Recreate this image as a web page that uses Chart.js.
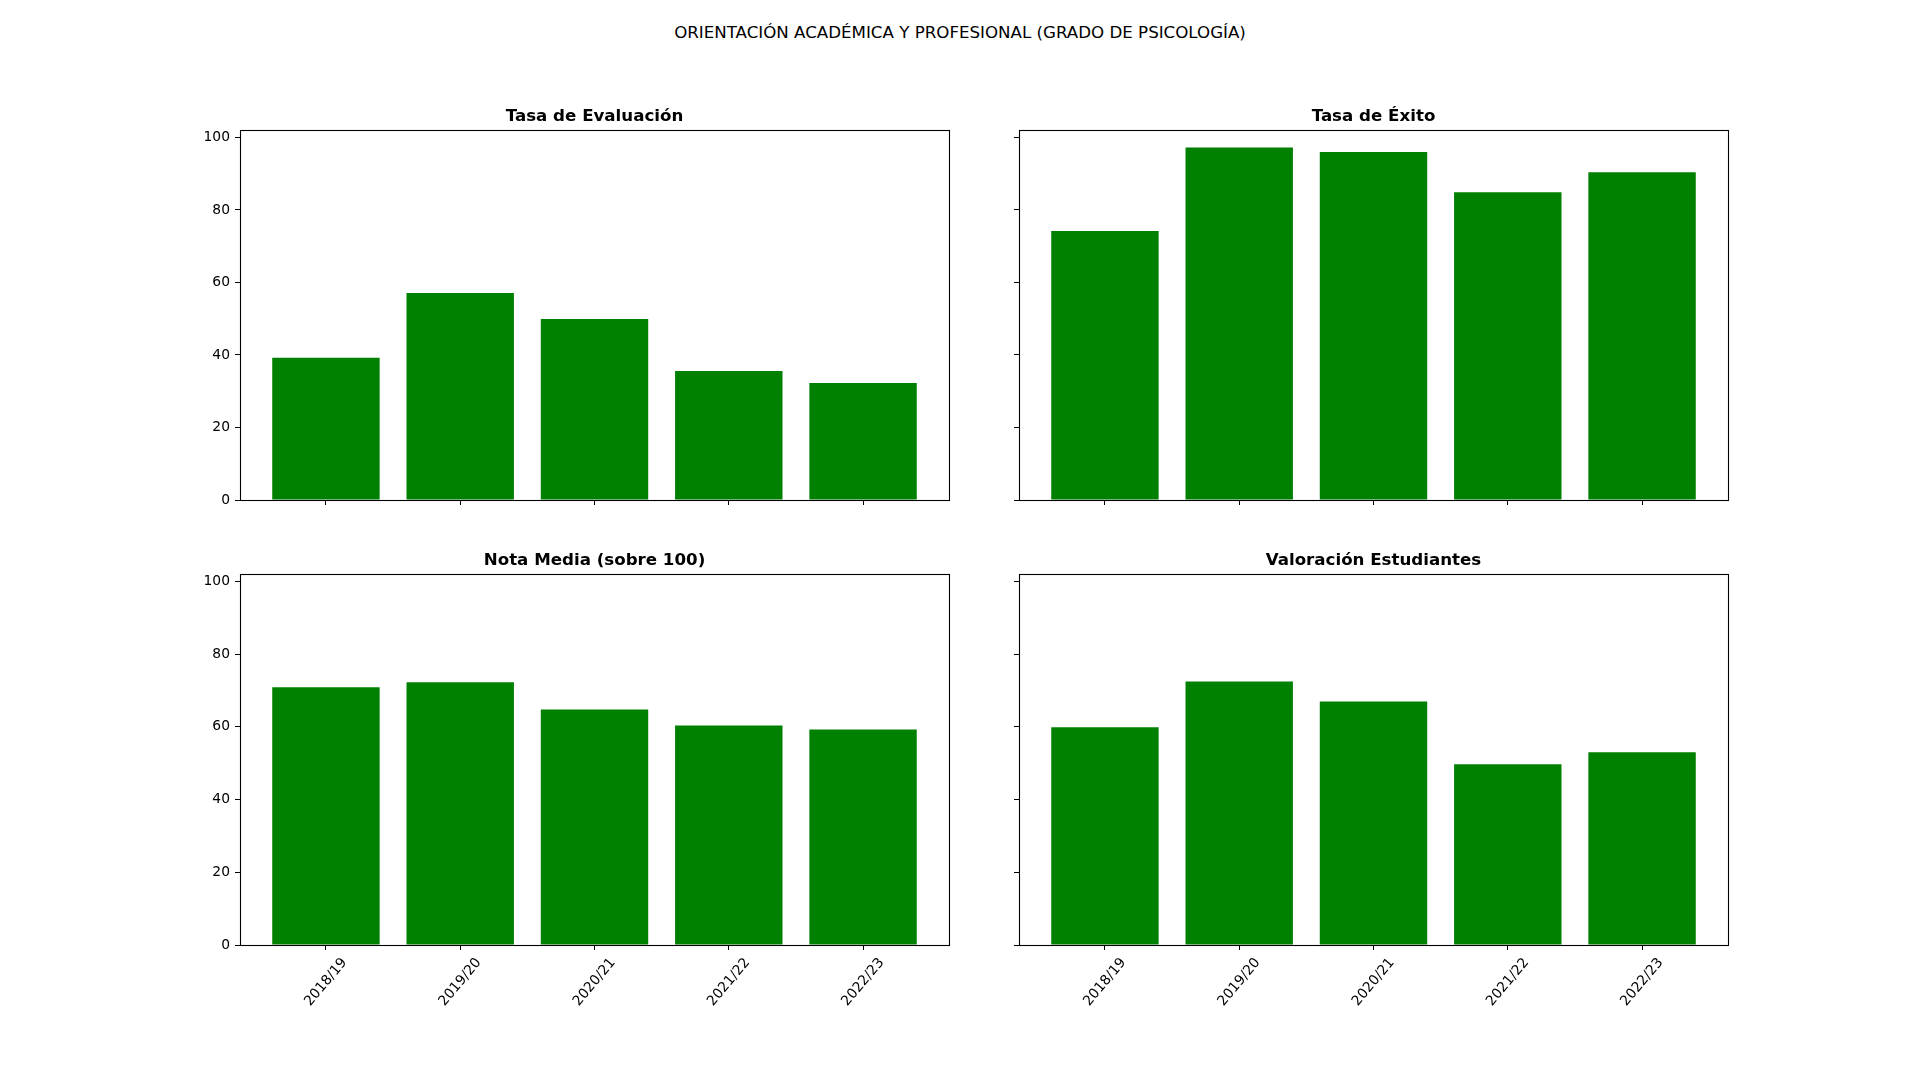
<!DOCTYPE html>
<html>
<head>
<meta charset="utf-8">
<script src="https://cdn.jsdelivr.net/npm/chart.js@4.4.1/dist/chart.umd.min.js"></script>
<style>
  html, body { margin: 0; padding: 0; background: #fff; }
  body { width: 1920px; height: 1080px; position: relative; overflow: hidden; font-family: "DejaVu Sans", sans-serif; }
  #suptitle { position: absolute; left: 0; top: 23px; width: 1920px; text-align: center; font-size: 16.67px; line-height: 20px; color: #000; }
  .panel { position: absolute; }
</style>
</head>
<body>
<div id="suptitle">ORIENTACIÓN ACADÉMICA Y PROFESIONAL (GRADO DE PSICOLOGÍA)</div>
<div class="panel"><canvas id="c0"></canvas></div>
<div class="panel"><canvas id="c1"></canvas></div>
<div class="panel"><canvas id="c2"></canvas></div>
<div class="panel"><canvas id="c3"></canvas></div>
<script>
const SEASONS = ["2018/19", "2019/20", "2020/21", "2021/22", "2022/23"];
const TITLES = ["Tasa de Evaluación", "Tasa de Éxito", "Nota Media (sobre 100)", "Valoración Estudiantes"];
const TASA_EVALUACION = [39.2, 57.1, 49.9, 35.6, 32.3];
const TASA_EXITO = [74.2, 97.2, 96.0, 84.9, 90.4];
const NOTA_MEDIA = [70.9, 72.3, 64.8, 60.4, 59.3];
const VALORACION = [59.9, 72.5, 67.0, 49.7, 53.0];
const Y_TICKS = [0, 20, 40, 60, 80, 100];

const SERIES = [TASA_EVALUACION, TASA_EXITO, NOTA_MEDIA, VALORACION];
const Y_MAX = 102.04;
const X_MIN = -0.64;
const X_MAX = 4.64;

// plot rectangles in page pixels (left, top, width, height)
const PANELS = [
  { left: 240, top: 130, width: 709, height: 370, row: 0, col: 0 },
  { left: 1019, top: 130, width: 709, height: 370, row: 0, col: 1 },
  { left: 240, top: 574, width: 709, height: 371, row: 1, col: 0 },
  { left: 1019, top: 574, width: 709, height: 371, row: 1, col: 1 }
];
const PAD_L = 70;
const PAD_T = 50;
const PAD_R = 20;
const PAD_B = 90;
const FONT = "\"DejaVu Sans\", sans-serif";

Chart.defaults.font.family = FONT;
Chart.defaults.font.size = 13.89;
Chart.defaults.color = "#000";

const framePlugin = {
  id: "frame",
  afterDatasetsDraw(chart) {
    const { ctx, chartArea } = chart;
    ctx.save();
    ctx.strokeStyle = "#000";
    ctx.lineWidth = 1.1;
    ctx.strokeRect(chartArea.left + 0.5, chartArea.top + 0.5, chartArea.right - chartArea.left, chartArea.bottom - chartArea.top);
    ctx.restore();
  }
};

const titlePlugin = {
  id: "subTitle",
  afterDraw(chart, args, opts) {
    const { ctx, chartArea } = chart;
    ctx.save();
    ctx.font = `bold 16.67px ${FONT}`;
    ctx.fillStyle = "#000";
    ctx.textAlign = "center";
    ctx.textBaseline = "alphabetic";
    ctx.fillText(opts.text, (chartArea.left + chartArea.right) / 2, chartArea.top - 9);
    ctx.restore();
  }
};

const xLabelPlugin = {
  id: "xLabels",
  afterDraw(chart, args, opts) {
    if (!opts.show) {
      return;
    }
    const { ctx, chartArea } = chart;
    const scale = chart.scales.x;
    const angle = 50 * Math.PI / 180;
    const h = 16.2;
    const y0 = chartArea.bottom + 5 + 4.86;
    ctx.save();
    ctx.font = `13.89px ${FONT}`;
    ctx.fillStyle = "#000";
    ctx.textAlign = "center";
    ctx.textBaseline = "middle";
    SEASONS.forEach((label, i) => {
      const w = ctx.measureText(label).width;
      const x = scale.getPixelForValue(i);
      const cy = y0 + (w * Math.sin(angle) + h * Math.cos(angle)) / 2;
      ctx.save();
      ctx.translate(x, cy);
      ctx.rotate(-angle);
      ctx.fillText(label, 0, 0);
      ctx.restore();
    });
    ctx.restore();
  }
};

PANELS.forEach((panel, index) => {
  const canvas = document.getElementById(`c${index}`);
  const wrap = canvas.parentElement;
  const cw = PAD_L + panel.width + PAD_R;
  const ch = PAD_T + panel.height + PAD_B;
  wrap.style.left = `${panel.left - PAD_L}px`;
  wrap.style.top = `${panel.top - PAD_T}px`;
  canvas.width = cw;
  canvas.height = ch;
  canvas.style.width = `${cw}px`;
  canvas.style.height = `${ch}px`;

  const values = SERIES[index];
  new Chart(canvas, {
    type: "bar",
    data: {
      datasets: [{
        data: values.map((v, i) => ({ x: i, y: v })),
        backgroundColor: "#008000",
        borderWidth: 0,
        barPercentage: 0.8,
        categoryPercentage: 1.0
      }]
    },
    options: {
      responsive: false,
      animation: false,
      events: [],
      layout: { padding: { left: 0, top: PAD_T, right: PAD_R, bottom: 0 } },
      plugins: {
        legend: { display: false },
        tooltip: { enabled: false },
        title: { display: false },
        subTitle: { text: TITLES[index] },
        xLabels: { show: panel.row === 1 }
      },
      scales: {
        x: {
          type: "linear",
          min: X_MIN,
          max: X_MAX,
          offset: false,
          afterBuildTicks: (scale) => {
            scale.ticks = SEASONS.map((_, i) => ({ value: i }));
          },
          afterFit: (scale) => {
            scale.height = PAD_B;
          },
          ticks: { display: false },
          border: { display: false },
          grid: {
            display: true,
            offset: false,
            drawOnChartArea: false,
            drawTicks: true,
            tickLength: 5,
            tickColor: "#000",
            tickWidth: 1
          }
        },
        y: {
          min: 0,
          max: Y_MAX,
          afterBuildTicks: (scale) => {
            scale.ticks = Y_TICKS.map((v) => ({ value: v }));
          },
          afterFit: (scale) => {
            scale.width = PAD_L;
          },
          ticks: {
            display: panel.col === 0,
            padding: 5,
            color: "#000",
            font: { size: 13.89 },
            callback: (value) => String(value)
          },
          border: { display: false },
          grid: {
            display: true,
            drawOnChartArea: false,
            drawTicks: true,
            tickLength: 5,
            tickColor: "#000",
            tickWidth: 1
          }
        }
      }
    },
    plugins: [framePlugin, titlePlugin, xLabelPlugin]
  });
});
</script>
</body>
</html>
